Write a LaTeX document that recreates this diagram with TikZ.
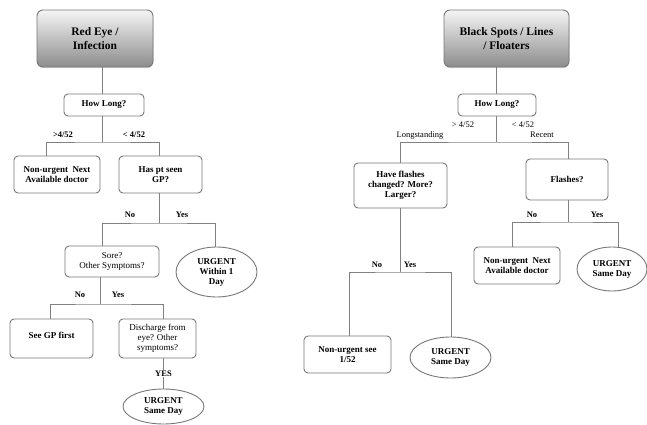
\documentclass[tikz,border=0pt]{standalone}
\usepackage{fontspec}
\setmainfont{Liberation Serif}
\usetikzlibrary{shapes.geometric,shadows}
\definecolor{lc}{RGB}{128,128,128}
\definecolor{bc}{RGB}{120,120,120}
\tikzset{
  box/.style={draw=bc, line width=0.9pt, rounded corners=4pt, fill=white, align=center,
    inner sep=1pt, font=\fontsize{9}{10}\selectfont\bfseries},
  ebox/.style={draw=bc, line width=0.9pt, ellipse, fill=white, align=center,
    inner sep=0pt, font=\fontsize{9}{10}\selectfont\bfseries},
  titlebox/.style={draw=bc, line width=0.9pt, rounded corners=6pt, align=center,
    top color=white!96!black, bottom color=black!45, drop shadow={shadow xshift=0.5pt, shadow yshift=-1.2pt, opacity=0.35},
    font=\fontsize{11.5}{14}\selectfont\bfseries},
  conn/.style={draw=lc, line width=1pt},
  lab/.style={font=\fontsize{8.5}{9}\selectfont\bfseries, inner sep=1pt},
  labr/.style={font=\fontsize{8.5}{9}\selectfont, inner sep=1pt},
}
\begin{document}
\begin{tikzpicture}[x=1pt,y=-1pt]
\useasboundingbox (0,0) rectangle (647,425);
% ---------- left tree ----------
\node[titlebox, minimum width=116pt, minimum height=57pt] (t1) at (95,38.5) {Red Eye /\\Infection};
\node[box, minimum width=80pt, minimum height=22pt] (hl1) at (104,105) {How Long?};
\node[box, minimum width=86pt, minimum height=37pt] (nu1) at (57,174.5) {Non-urgent\ \ Next\\Available doctor};
\node[box, minimum width=83pt, minimum height=37pt] (gp) at (160.5,174.5) {Has pt seen\\GP?};
\node[box, minimum width=94pt, minimum height=31pt, font=\fontsize{9}{10}\selectfont] (sore) at (112,261.5) {Sore?\\Other Symptoms?};
\node[ebox, minimum width=81pt, minimum height=50pt] (u1) at (216.5,272) {URGENT\\Within 1\\Day};
\node[box, minimum width=83pt, minimum height=39pt] (seegp) at (51.5,338.5) {\raisebox{6pt}{See GP first}};
\node[box, minimum width=77pt, minimum height=39pt, font=\fontsize{9}{10}\selectfont] (dis) at (157.5,338.5) {Discharge from\\eye? Other\\symptoms?};
\node[ebox, minimum width=81pt, minimum height=35pt] (u2) at (163.5,406.5) {URGENT\\Same Day};

\coordinate (j1) at (102,142);
\coordinate (j2) at (159,223);
\coordinate (j3) at (100,304);
\draw[conn] (t1.south -| j1) -- (hl1.north -| j1);
\draw[conn] (hl1.south -| j1) -- (j1);
\draw[conn] ([xshift=-11pt]nu1.north) |- (j1) -| ([xshift=-1.5pt]gp.north);
\draw[conn] (gp.south -| j2) -- (j2);
\draw[conn] ([xshift=-10pt]sore.north) |- (j2) -| ([xshift=-1.5pt]u1.north);
\draw[conn] (sore.south -| j3) -- (j3);
\draw[conn] ([xshift=-1.5pt]seegp.north) |- (j3) -| ([xshift=5.5pt]dis.north);
\draw[conn] (dis.south -| u2) -- node[lab, fill=white, pos=0.5] {YES} (u2.north);

\node[lab] at (63,135) {>4/52};
\node[lab] at (134,135) {< 4/52};
\node[lab] at (130,215) {No};
\node[lab] at (182,215) {Yes};
\node[lab] at (80,295) {No};
\node[lab] at (118,295) {Yes};

% ---------- right tree ----------
\node[titlebox, minimum width=125pt, minimum height=57pt] (t2) at (506.5,38.5) {Black Spots / Lines\\/ Floaters};
\node[box, minimum width=78pt, minimum height=22pt] (hl2) at (497,105) {How Long?};
\node[box, minimum width=93pt, minimum height=45pt] (hf) at (400.5,185.5) {Have flashes\\changed? More?\\Larger?};
\node[box, minimum width=82pt, minimum height=41pt] (fl) at (567,179.5) {Flashes?};
\node[box, minimum width=86pt, minimum height=37pt] (nu2) at (517,265.5) {Non-urgent\ \ Next\\Available doctor};
\node[ebox, minimum width=70pt, minimum height=44pt] (u3) at (612,269) {URGENT\\Same Day};
\node[box, minimum width=87pt, minimum height=37pt] (nu3) at (347.5,354.5) {Non-urgent see\\1/52};
\node[ebox, minimum width=81pt, minimum height=41pt] (u4) at (450.5,357.5) {URGENT\\Same Day};

\coordinate (j4) at (496,142);
\coordinate (j5) at (400,272);
\coordinate (j6) at (568,222);
\draw[conn] (t2.south -| j4) -- (hl2.north -| j4);
\draw[conn] (hl2.south -| j4) -- (j4);
\draw[conn] (hf.north -| j5) |- (j4) -| ([xshift=1pt]fl.north);
\draw[conn] (hf.south -| j5) -- (j5);
\draw[conn] ([xshift=1.5pt]nu3.north) |- (j5) -| ([xshift=0.5pt]u4.north);
\draw[conn] (fl.south -| j6) -- (j6);
\draw[conn] ([xshift=-5pt]nu2.north) |- (j6) -| ([xshift=6pt]u3.north);

\node[labr] at (463,125) {> 4/52};
\node[labr] at (523,125) {< 4/52};
\node[labr] at (420,135) {Longstanding};
\node[labr] at (542,135) {Recent};
\node[lab] at (532,215) {No};
\node[lab] at (597,215) {Yes};
\node[lab] at (377,265) {No};
\node[lab] at (410,265) {Yes};
\end{tikzpicture}
\end{document}
